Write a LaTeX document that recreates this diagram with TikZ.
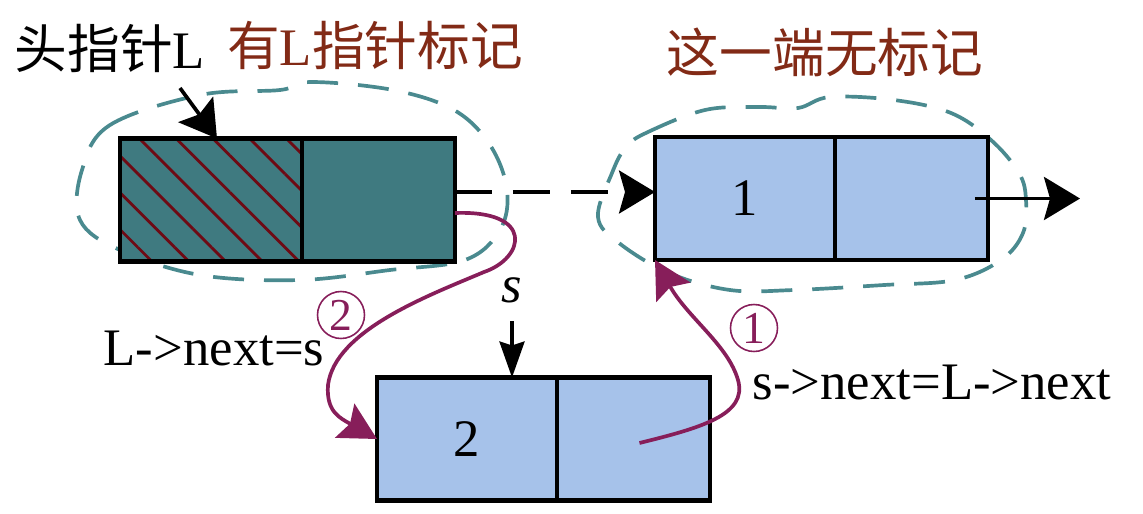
\documentclass[tikz,border=0pt]{standalone}
\usepackage{fontspec}
\setmainfont{Liberation Serif}
\newfontfamily\cjk{Noto Sans CJK SC}
\usetikzlibrary{positioning,arrows.meta,patterns.meta}

\definecolor{headfill}{RGB}{63,122,128}
\definecolor{nodefill}{RGB}{166,194,234}
\definecolor{cloudline}{RGB}{74,138,143}
\definecolor{hatchred}{RGB}{110,10,20}
\definecolor{marktext}{RGB}{130,42,22}
\definecolor{linkpurple}{RGB}{135,30,90}

\begin{document}
\begin{tikzpicture}[
    x=0.02cm, y=-0.02cm,
    font=\fontsize{30}{36}\selectfont,
    cell/.style={draw, line width=2.3pt, minimum height=2.46cm, inner sep=0pt, outer sep=0pt},
    datacell/.style={cell, minimum width=3.6cm},
    nextcell/.style={cell, minimum width=3.06cm},
    cloudline/.style={draw=cloudline, line width=2.1pt, dash pattern=on 0.62cm off 0.4cm},
    ptr/.style={-{Stealth[length=0.72cm, width=0.86cm, inset=0.12cm]}, line width=2.1pt},
    sptr/.style={-{Stealth[length=0.72cm, width=0.5cm, inset=0.08cm]}, line width=2.1pt},
    link/.style={-{Stealth[length=0.74cm, width=0.78cm, inset=0.12cm]}, draw=linkpurple, line width=2.1pt},
    stepnum/.style={circle, draw=linkpurple, text=linkpurple, line width=0.9pt, inner sep=0pt, minimum size=0.94cm, font=\fontsize{26}{28}\selectfont},
    label text/.style={inner sep=0pt}
  ]
    \useasboundingbox (0,0) rectangle (1143,514);

    % dashed outlines
    \draw[cloudline] plot[smooth cycle, tension=0.6] coordinates {
      (82,170) (110,125) (200,95) (280,90) (312,82) (393,90) (454,110)
      (490,145) (507,190) (500,230) (465,260) (390,270) (300,280)
      (200,275) (120,250) (80,220)};
    \draw[cloudline] plot[smooth cycle, tension=0.6] coordinates {
      (626,147) (648,132) (705,110) (759,107) (798,108) (830,97) (894,100)
      (951,113) (991,140) (1019,173) (1026,200) (1023,233) (1001,260)
      (955,280) (884,285) (794,290) (730,290) (669,273) (619,243)
      (598,217) (612,173)};

    % list nodes
    \node[datacell, minimum width=3.64cm, fill=headfill,
      postaction={pattern={Lines[angle=-45, distance=14.8pt, line width=1.6pt]}, pattern color=hatchred},
      postaction={draw}] (Ldata) at (211,200) {};
    \node[nextcell, fill=headfill, right=0pt of Ldata] (Lnext) {};

    \node[datacell, fill=nodefill] (oneData) at (745,198.5) {1};
    \node[nextcell, fill=nodefill, right=0pt of oneData] (oneNext) {};

    \node[datacell, fill=nodefill] (twoData) at (467,439) {2};
    \node[nextcell, fill=nodefill, right=0pt of twoData] (twoNext) {};

    % texts
    \node[label text] (headL) at (110,48) {{\cjk 头指针}L};
    \node[label text, text=marktext] (markL) at (375,45) {{\cjk 有}L{\cjk 指针标记}};
    \node[label text, text=marktext] (noMark) at (825,52) {\cjk 这一端无标记};
    \node[label text] (sName) at (512,290) {\textit{s}};
    \node[label text] (Lassign) at (214,348) {L->next=s};
    \node[label text] (sAssign) at (932,382) {s->next=L->next};
    \node[stepnum] (stepTwo) at (341,315) {2};
    \node[stepnum] (stepOne) at (754,328) {1};

    % pointers
    \coordinate (headTail) at (180,88);
    \coordinate (nilEnd) at (1080,198.5);
    \draw[ptr] (headTail) -- (Ldata.north -| 217,0);
    \draw[ptr, dash pattern=on 0.74cm off 0.42cm] (Lnext.east |- 0,192) -- (oneData.west |- 0,192);
    \draw[ptr] ([xshift=-0.26cm]oneNext.east) -- (nilEnd);
    \draw[sptr, shorten <=0.36cm] (sName.south) -- (sName.south |- twoData.north);

    % insertion steps
    \draw[link] (Lnext.east |- 0,213) .. controls (535,210) and (525,258) .. (484,272)
      .. controls (430,295) and (335,330) .. (328,385)
      .. controls (326,412) and (340,418) .. (twoData.west);
    \draw[link] ([xshift=0.12cm,yshift=-0.08cm]twoNext.center) .. controls (700,428) and (748,415) .. (738,380)
      .. controls (728,345) and (688,318) .. (oneData.south west);
\end{tikzpicture}
\end{document}
